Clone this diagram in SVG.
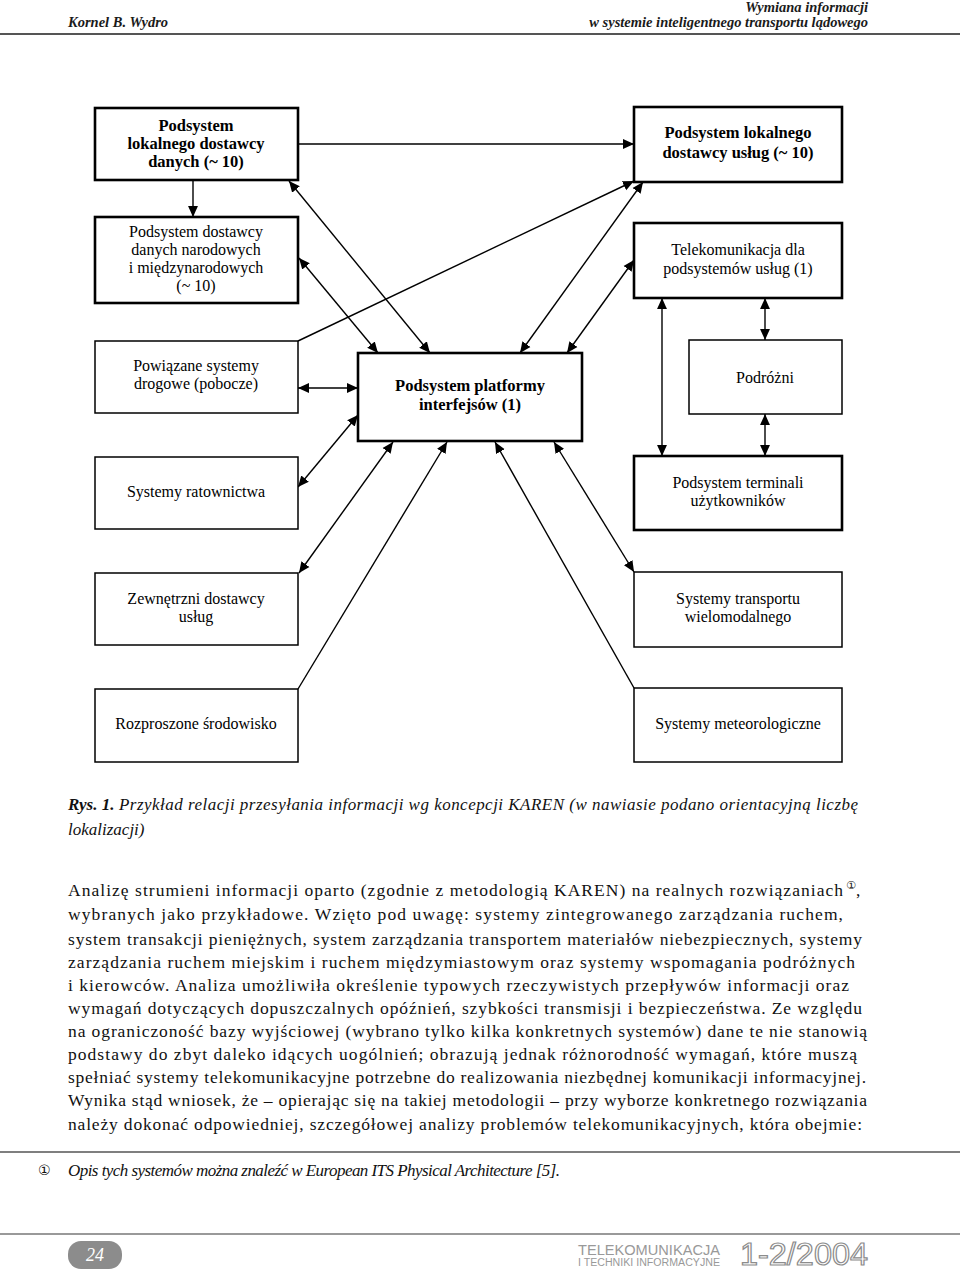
<svg xmlns="http://www.w3.org/2000/svg" width="960" height="1271" viewBox="0 0 960 1271">
<style>
.bt{fill:#fff;stroke:#000;stroke-width:2.6}
.bn{fill:#fff;stroke:#000;stroke-width:1.5}
.lbl{font-family:"Liberation Serif","Times New Roman",serif;font-size:16px;text-anchor:middle;fill:#000}
.b{font-weight:bold;font-size:16.5px}
.conn line{stroke:#000;stroke-width:1.4}
.body{font-family:"Liberation Serif","Times New Roman",serif;font-size:17.5px;fill:#111}
.cap{font-family:"Liberation Serif","Times New Roman",serif;font-size:17px;font-style:italic;fill:#111}
.hdr{font-family:"Liberation Serif","Times New Roman",serif;font-size:14.5px;font-style:italic;font-weight:bold;fill:#1a1a1a}
.circ{font-family:"DejaVu Sans","Noto Sans CJK SC",sans-serif;fill:#111}
</style>
<defs>
<marker id="ah" viewBox="0 0 10 10" refX="10" refY="5" markerWidth="11" markerHeight="11" markerUnits="userSpaceOnUse" orient="auto-start-reverse">
<path d="M0,0.5 L10,5 L0,9.5 z" fill="#000"/>
</marker>
</defs>
<rect width="960" height="1271" fill="#fff"/>

<!-- header -->
<text class="hdr" x="68" y="27">Kornel B. Wydro</text>
<text class="hdr" x="868" y="12" text-anchor="end">Wymiana informacji</text>
<text class="hdr" x="868" y="27" text-anchor="end">w systemie inteligentnego transportu lądowego</text>
<line x1="0" y1="34" x2="960" y2="34" stroke="#555" stroke-width="2"/>

<!-- connectors -->
<g id="connectors" class="conn">
<line x1="298" y1="144" x2="634" y2="144" marker-end="url(#ah)"/>
<line x1="193" y1="180" x2="193" y2="217" marker-end="url(#ah)"/>
<line x1="289" y1="181" x2="430" y2="353" marker-start="url(#ah)" marker-end="url(#ah)"/>
<line x1="299" y1="258" x2="378" y2="353" marker-start="url(#ah)" marker-end="url(#ah)"/>
<line x1="298" y1="341" x2="634" y2="181" marker-end="url(#ah)"/>
<line x1="520" y1="353" x2="643" y2="182" marker-start="url(#ah)" marker-end="url(#ah)"/>
<line x1="567" y1="353" x2="634" y2="260" marker-start="url(#ah)" marker-end="url(#ah)"/>
<line x1="298" y1="388" x2="358" y2="388" marker-start="url(#ah)" marker-end="url(#ah)"/>
<line x1="358" y1="415" x2="298" y2="487" marker-start="url(#ah)" marker-end="url(#ah)"/>
<line x1="393" y1="442" x2="299" y2="573" marker-start="url(#ah)" marker-end="url(#ah)"/>
<line x1="298" y1="689" x2="447" y2="442" marker-end="url(#ah)"/>
<line x1="634" y1="688" x2="495" y2="442" marker-end="url(#ah)"/>
<line x1="554" y1="442" x2="634" y2="572" marker-start="url(#ah)" marker-end="url(#ah)"/>
<line x1="765" y1="298" x2="765" y2="340" marker-start="url(#ah)" marker-end="url(#ah)"/>
<line x1="662" y1="298" x2="662" y2="456" marker-start="url(#ah)" marker-end="url(#ah)"/>
<line x1="765" y1="414" x2="765" y2="456" marker-start="url(#ah)" marker-end="url(#ah)"/>
</g>

<!-- left column -->
<g id="n-lok-dane">
<rect class="bt" x="95" y="108" width="203" height="72"/>
<text class="lbl b" x="196" y="131">Podsystem</text>
<text class="lbl b" x="196" y="149">lokalnego dostawcy</text>
<text class="lbl b" x="196" y="167">danych (~ 10)</text>
</g>
<g id="n-narod">
<rect class="bt" x="95" y="217" width="203" height="86"/>
<text class="lbl" x="196" y="237">Podsystem dostawcy</text>
<text class="lbl" x="196" y="255">danych narodowych</text>
<text class="lbl" x="196" y="273">i międzynarodowych</text>
<text class="lbl" x="196" y="291">(~ 10)</text>
</g>
<g id="n-drogowe">
<rect class="bn" x="95" y="341" width="203" height="72"/>
<text class="lbl" x="196" y="371">Powiązane systemy</text>
<text class="lbl" x="196" y="389">drogowe (pobocze)</text>
</g>
<g id="n-ratown">
<rect class="bn" x="95" y="457" width="203" height="72"/>
<text class="lbl" x="196" y="497">Systemy ratownictwa</text>
</g>
<g id="n-zewn">
<rect class="bn" x="95" y="573" width="203" height="72"/>
<text class="lbl" x="196" y="604">Zewnętrzni dostawcy</text>
<text class="lbl" x="196" y="622">usług</text>
</g>
<g id="n-rozpr">
<rect class="bn" x="95" y="689" width="203" height="73"/>
<text class="lbl" x="196" y="729">Rozproszone środowisko</text>
</g>

<!-- center -->
<g id="n-platforma">
<rect class="bt" x="358" y="353" width="224" height="88"/>
<text class="lbl b" x="470" y="391">Podsystem platformy</text>
<text class="lbl b" x="470" y="410">interfejsów (1)</text>
</g>

<!-- right column -->
<g id="n-lok-uslug">
<rect class="bt" x="634" y="107" width="208" height="75"/>
<text class="lbl b" x="738" y="138">Podsystem lokalnego</text>
<text class="lbl b" x="738" y="158">dostawcy usług (~ 10)</text>
</g>
<g id="n-telekom">
<rect class="bt" x="634" y="223" width="208" height="75"/>
<text class="lbl" x="738" y="255">Telekomunikacja dla</text>
<text class="lbl" x="738" y="274">podsystemów usług (1)</text>
</g>
<g id="n-podrozni">
<rect class="bn" x="689" y="340" width="153" height="74"/>
<text class="lbl" x="765" y="383">Podróżni</text>
</g>
<g id="n-terminale">
<rect class="bt" x="634" y="456" width="208" height="74"/>
<text class="lbl" x="738" y="488">Podsystem terminali</text>
<text class="lbl" x="738" y="506">użytkowników</text>
</g>
<g id="n-wielomod">
<rect class="bn" x="634" y="572" width="208" height="75"/>
<text class="lbl" x="738" y="604">Systemy transportu</text>
<text class="lbl" x="738" y="622">wielomodalnego</text>
</g>
<g id="n-meteo">
<rect class="bn" x="634" y="688" width="208" height="74"/>
<text class="lbl" x="738" y="729">Systemy meteorologiczne</text>
</g>

<!-- caption -->
<text class="cap" x="68" y="810" font-weight="bold" font-size="15">Rys. 1.</text>
<text class="cap" x="119" y="810" textLength="739" lengthAdjust="spacing">Przykład relacji przesyłania informacji wg koncepcji KAREN (w nawiasie podano orientacyjną liczbę</text>
<text class="cap" x="68" y="835">lokalizacji)</text>

<!-- body text -->
<text class="body" x="68" y="896" textLength="775" lengthAdjust="spacing">Analizę strumieni informacji oparto (zgodnie z metodologią KAREN) na realnych rozwiązaniach</text>
<text class="circ" x="846" y="889" font-size="11">①</text>
<text class="body" x="856" y="896">,</text>
<text class="body" x="68" y="920" textLength="775" lengthAdjust="spacing">wybranych jako przykładowe. Wzięto pod uwagę: systemy zintegrowanego zarządzania ruchem,</text>
<text class="body" x="68" y="945" textLength="794" lengthAdjust="spacing">system transakcji pieniężnych, system zarządzania transportem materiałów niebezpiecznych, systemy</text>
<text class="body" x="68" y="968" textLength="787" lengthAdjust="spacing">zarządzania ruchem miejskim i ruchem międzymiastowym oraz systemy wspomagania podróżnych</text>
<text class="body" x="68" y="991" textLength="781" lengthAdjust="spacing">i kierowców. Analiza umożliwiła określenie typowych rzeczywistych przepływów informacji oraz</text>
<text class="body" x="68" y="1014" textLength="794" lengthAdjust="spacing">wymagań dotyczących dopuszczalnych opóźnień, szybkości transmisji i bezpieczeństwa. Ze względu</text>
<text class="body" x="68" y="1037" textLength="799" lengthAdjust="spacing">na ograniczoność bazy wyjściowej (wybrano tylko kilka konkretnych systemów) dane te nie stanowią</text>
<text class="body" x="68" y="1060" textLength="789" lengthAdjust="spacing">podstawy do zbyt daleko idących uogólnień; obrazują jednak różnorodność wymagań, które muszą</text>
<text class="body" x="68" y="1083" textLength="798" lengthAdjust="spacing">spełniać systemy telekomunikacyjne potrzebne do realizowania niezbędnej komunikacji informacyjnej.</text>
<text class="body" x="68" y="1106" textLength="799" lengthAdjust="spacing">Wynika stąd wniosek, że – opierając się na takiej metodologii – przy wyborze konkretnego rozwiązania</text>
<text class="body" x="68" y="1130" textLength="794" lengthAdjust="spacing">należy dokonać odpowiedniej, szczegółowej analizy problemów telekomunikacyjnych, która obejmie:</text>

<!-- footnote -->
<line x1="0" y1="1152" x2="960" y2="1152" stroke="#555" stroke-width="1.5"/>
<text class="circ" x="38" y="1175" font-size="14">①</text>
<text class="cap" x="68" y="1176" font-size="14.5" textLength="492" lengthAdjust="spacing">Opis tych systemów można znaleźć w European ITS Physical Architecture [5].</text>

<!-- footer -->
<line x1="0" y1="1234" x2="960" y2="1234" stroke="#777" stroke-width="1.5"/>
<rect x="68" y="1241" width="54" height="28" rx="13" fill="#8c8c8c"/>
<text x="95" y="1261" text-anchor="middle" font-family="Liberation Serif, serif" font-style="italic" font-size="18" fill="#fff">24</text>
<text x="578" y="1255" font-family="Liberation Sans, Arial, sans-serif" font-size="15" fill="#999" textLength="142" lengthAdjust="spacingAndGlyphs">TELEKOMUNIKACJA</text>
<text x="578" y="1266" font-family="Liberation Sans, Arial, sans-serif" font-size="10" fill="#999" textLength="142" lengthAdjust="spacingAndGlyphs">I TECHNIKI INFORMACYJNE</text>
<text x="740" y="1265" font-family="Liberation Sans, Arial, sans-serif" font-size="31" fill="#fff" stroke="#8c8c8c" stroke-width="1.2" textLength="128" lengthAdjust="spacingAndGlyphs">1-2/2004</text>
</svg>
